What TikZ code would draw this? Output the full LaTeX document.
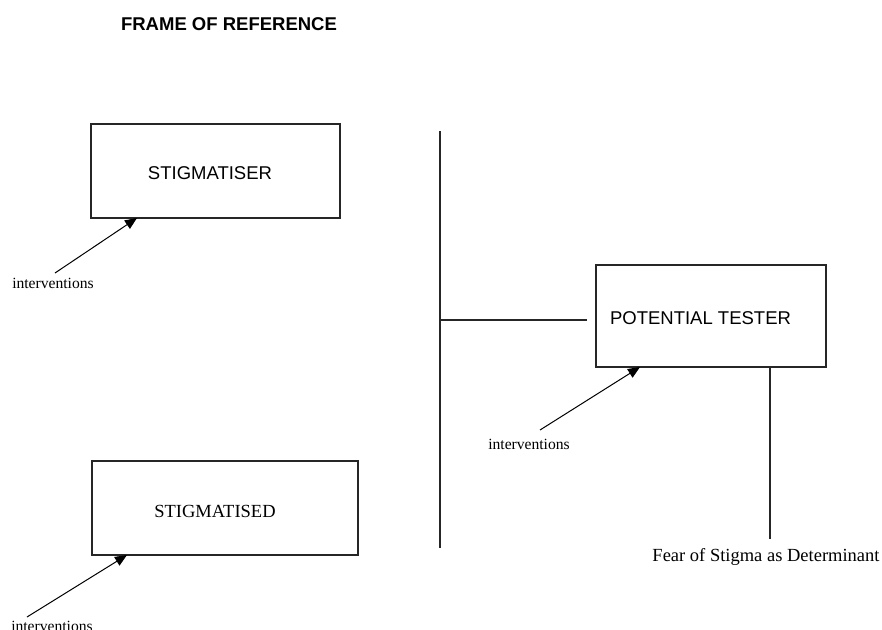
\documentclass[tikz,border=0pt]{standalone}
\usepackage{fontspec}
\setmainfont{Liberation Serif}
\setsansfont{Liberation Sans}
\usetikzlibrary{arrows.meta,calc}
\tikzset{
  boxnode/.style={draw=black!85, line width=1.1pt, inner sep=0pt, outer sep=0pt},
  sanstext/.style={font=\sffamily\fontsize{18.5}{20}\selectfont, inner sep=0pt},
  seriftext/.style={font=\rmfamily\fontsize{18.5}{20}\selectfont, inner sep=0pt},
  smalltext/.style={font=\rmfamily\fontsize{15.6}{17}\selectfont, inner sep=0pt},
  arr/.style={line width=1pt, -{Triangle[length=12pt,width=10pt]}},
  plainline/.style={draw=black!85, line width=1.1pt}
}
\begin{document}
\begin{tikzpicture}[x=1pt,y=-1pt]
\useasboundingbox (0,0) rectangle (882,629);
% title
\node[sanstext, font=\sffamily\bfseries\fontsize{18.5}{20}\selectfont] (title) at (229,24) {FRAME OF REFERENCE};
% boxes
\node[boxnode, minimum width=249pt, minimum height=94pt] (sr) at (215.5,171) {};
\node[sanstext] (srt) at (210,173) {STIGMATISER};
\node[boxnode, minimum width=266pt, minimum height=94pt] (sd) at (225,508) {};
\node[seriftext] (sdt) at (215,511) {STIGMATISED};
\node[boxnode, minimum width=230pt, minimum height=102pt] (pt) at (711,316) {};
\node[sanstext] (ptt) at (700.5,318) {POTENTIAL TESTER};
% divider
\coordinate (dtop) at (440,131);
\coordinate (dbot) at (440,548);
\coordinate (dmid) at (440,320);
\coordinate (hend) at (587,320);
\draw[plainline] (dtop) -- (dbot);
\draw[plainline] (dmid) -- (hend);
% intervention arrows
\coordinate (a1) at (55,273);
\coordinate (a2) at (27,617);
\coordinate (a3) at (540,430);
\draw[arr] (a1) -- ($(sr.south west)+(46,0)$);
\draw[arr] (a2) -- ($(sd.south west)+(35,0)$);
\draw[arr] (a3) -- ($(pt.south west)+(44,0)$);
\node[smalltext] (i1) at (53,283) {interventions};
\node[smalltext] (i2) at (52,626) {interventions};
\node[smalltext] (i3) at (529,444) {interventions};
% fear of stigma
\coordinate (fend) at (770,539);
\draw[plainline] ($(pt.south west)+(174,0)$) -- (fend);
\node[seriftext] (fear) at (766,557) {Fear of Stigma as Determinant};
\end{tikzpicture}
\end{document}
